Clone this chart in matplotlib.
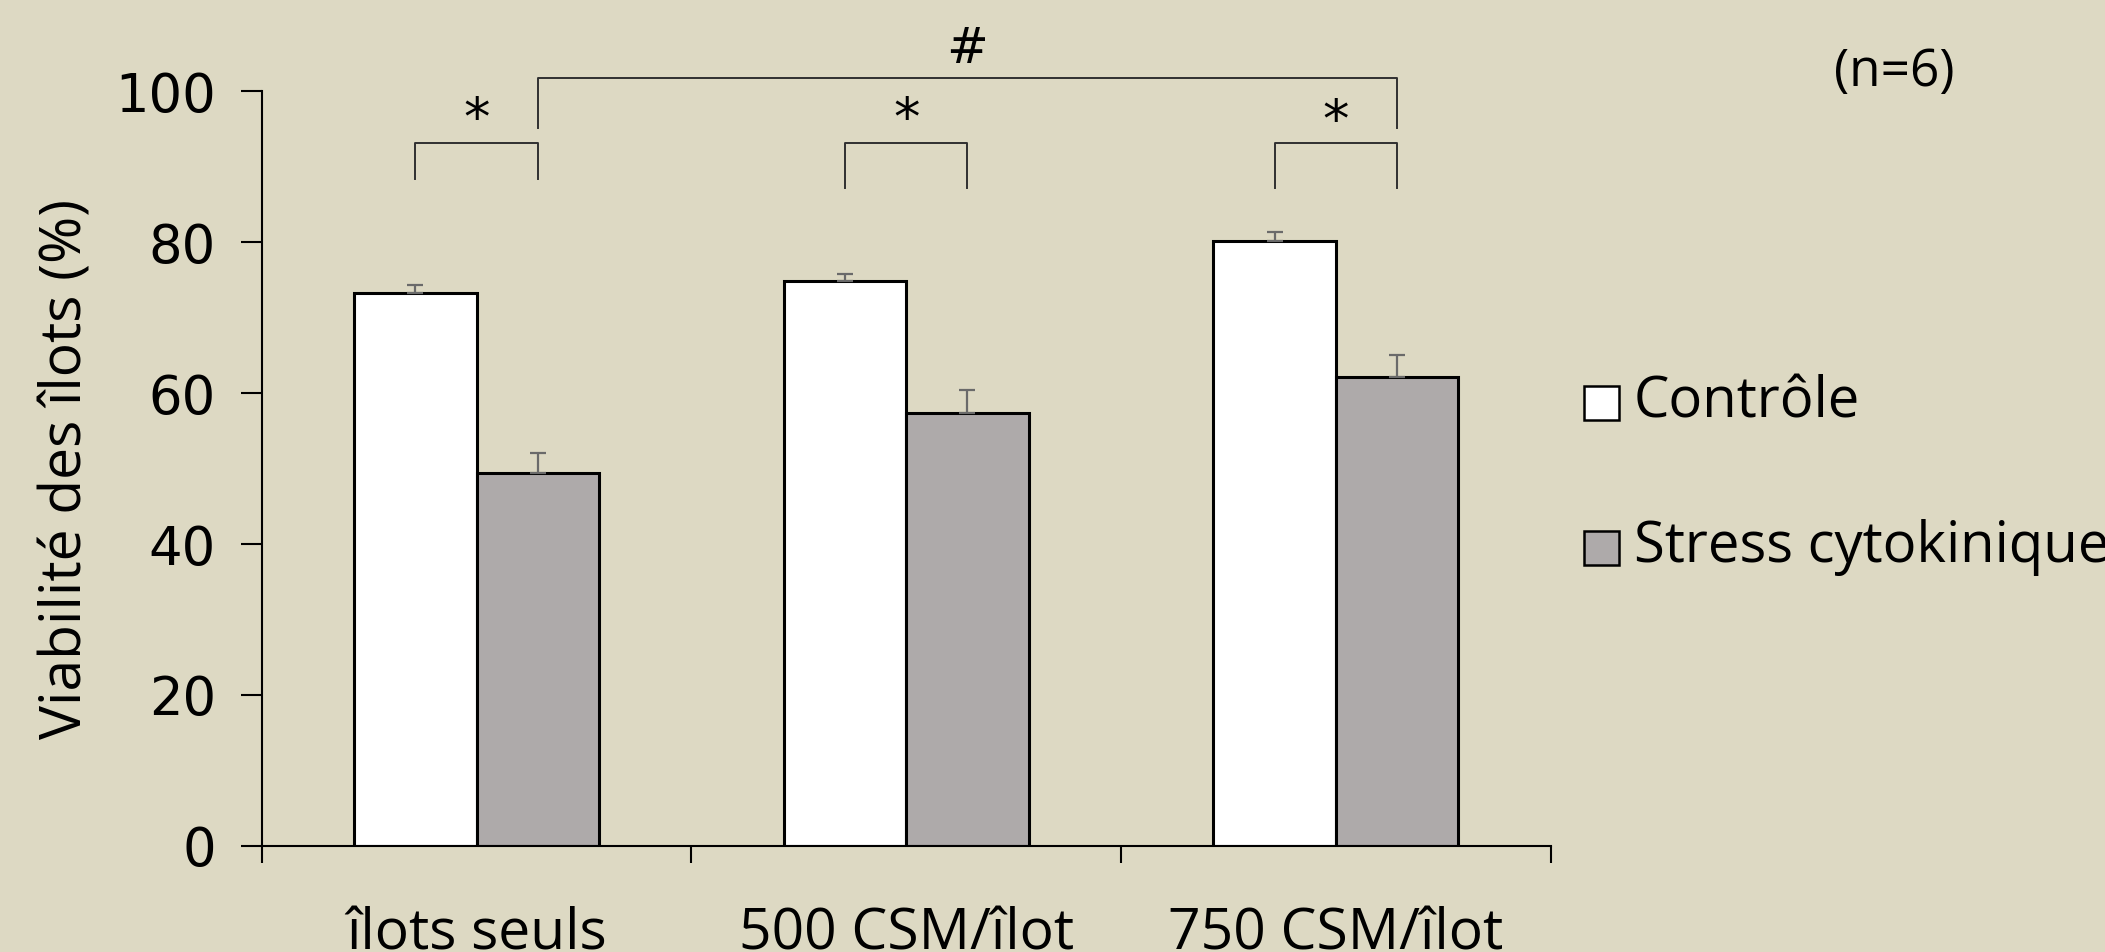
import matplotlib
matplotlib.use('Agg')
import matplotlib.pyplot as plt
import numpy as np

# données
groupes = ['îlots seuls', '500 CSM/îlot', '750 CSM/îlot']
controle = [73.3, 74.9, 80.2]
controle_err = [1.0, 0.9, 1.1]
stress = [49.4, 57.4, 62.2]
stress_err = [2.7, 3.0, 2.9]
graduations = [0, 20, 40, 60, 80, 100]

bg = '#DDD9C3'
gris = '#AEAAAA'
err_col = '#6A6A6A'

fig = plt.figure(figsize=(21.05, 9.52), dpi=100, facecolor=bg)
ax = fig.add_axes([0.1244, 0.1115, 0.6122, 0.7926], facecolor=bg)

x = np.arange(len(groupes))
w = 0.285
ax.bar(x - w / 2, controle, w, color='white', edgecolor='black', linewidth=2.2, zorder=2)
ax.bar(x + w / 2, stress, w, color=gris, edgecolor='black', linewidth=2.2, zorder=2)
ax.errorbar(x - w / 2, controle, yerr=[np.zeros(3), controle_err], fmt='none',
            ecolor=err_col, elinewidth=1.6, capsize=6, capthick=1.6, zorder=3)
ax.errorbar(x + w / 2, stress, yerr=[np.zeros(3), stress_err], fmt='none',
            ecolor=err_col, elinewidth=1.6, capsize=6, capthick=1.6, zorder=3)

ax.set_xlim(-0.5, 2.5)
ax.set_ylim(0, 100)
ax.set_yticks(graduations)
ax.set_yticklabels([str(v) for v in graduations], fontsize=38, family='DejaVu Sans')
ax.tick_params(axis='y', direction='out', length=15, width=1.5, pad=18)
ax.set_xticks([-0.5, 0.5, 1.5, 2.5])
ax.set_xticklabels([])
ax.tick_params(axis='x', which='major', direction='out', length=12, width=1.5)
ax.set_xticks(x, minor=True)
ax.set_xticklabels(groupes, minor=True, fontsize=41, family='Open Sans')
ax.tick_params(axis='x', which='minor', length=0, pad=44)

for s in ['top', 'right']:
    ax.spines[s].set_visible(False)
for s in ['left', 'bottom']:
    ax.spines[s].set_linewidth(1.5)

ax.set_ylabel('Viabilité des îlots (%)', fontsize=41, family='Open Sans', labelpad=14)

# crochets de significativité
def crochet(x1, x2, y, y_bas, texte, y_txt, taille):
    ax.plot([x1, x1, x2, x2], [y_bas, y, y, y_bas], color='#303030', lw=1.4, clip_on=False)
    ax.text((x1 + x2) / 2, y_txt, texte, ha='center', va='center', fontsize=taille,
            family='DejaVu Sans', clip_on=False)

crochet(-w / 2, w / 2, 93.1, 88.4, '*', 96.2, 38)
crochet(1 - w / 2, 1 + w / 2, 93.1, 87.2, '*', 96.2, 38)
crochet(2 - w / 2, 2 + w / 2, 93.1, 87.2, '*', 95.9, 38)
crochet(w / 2, 2 + w / 2, 101.8, 95.2, '#', 105.6, 36)

# légende
fig.patches.append(plt.Rectangle((1584 / 2105, 1 - 420 / 952), 35 / 2105, 34 / 952,
                                 transform=fig.transFigure, facecolor='white',
                                 edgecolor='black', linewidth=1.8))
fig.patches.append(plt.Rectangle((1584 / 2105, 1 - 565 / 952), 35 / 2105, 34 / 952,
                                 transform=fig.transFigure, facecolor=gris,
                                 edgecolor='black', linewidth=1.8))
fig.text(1634 / 2105, 1 - 403 / 952, 'Contrôle', fontsize=40.5, family='Open Sans', va='center')
fig.text(1634 / 2105, 1 - 548 / 952, 'Stress cytokinique', fontsize=40.5, family='Open Sans', va='center')
fig.text(1834 / 2105, 1 - 72 / 952, '(n=6)', fontsize=37, family='Open Sans', va='center')

fig.savefig('out.png', dpi=100, facecolor=bg)
